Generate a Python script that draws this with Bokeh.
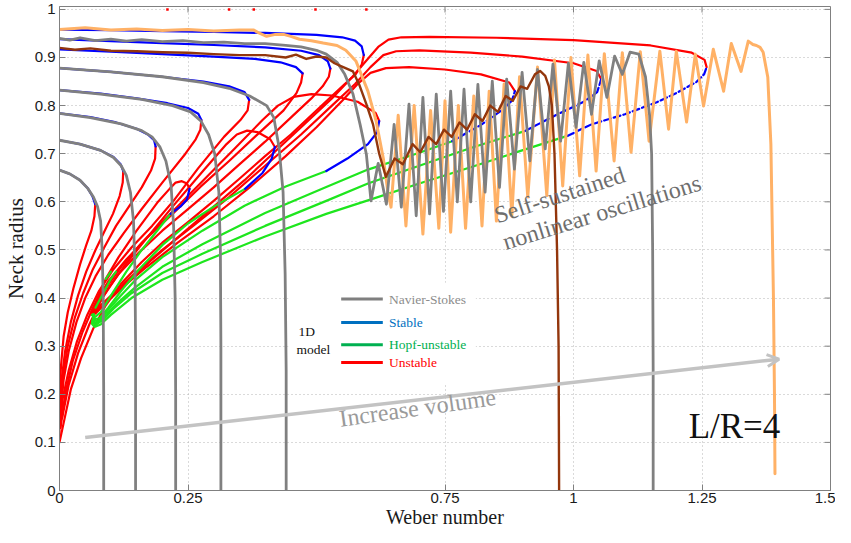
from bokeh.plotting import figure
from bokeh.models import FixedTicker, Arrow, OpenHead, Label, Range1d, CustomJSTickFormatter
from bokeh.embed import file_html
from bokeh.resources import INLINE

# ---------------- axis ticks ----------------
x_ticks = [0, 0.25, 0.75, 1, 1.25, 1.5]
y_ticks = [0, 0.1, 0.2, 0.3, 0.4, 0.5, 0.6, 0.7, 0.8, 0.9, 1]
X_MAX = 1.5
Y_MAX = 1.006

# ---------------- Navier-Stokes curves ----------------
ns_k0 = [(0, 0.666), (0.02, 0.658), (0.04, 0.645), (0.055, 0.628), (0.066, 0.61), (0.074, 0.59),
         (0.08, 0.56), (0.083, 0.5), (0.085, 0.4), (0.086, 0.2), (0.086, 0.0)]
ns_k1 = [(0, 0.728), (0.04, 0.72), (0.08, 0.707), (0.105, 0.692), (0.12, 0.675), (0.13, 0.655),
         (0.138, 0.62), (0.144, 0.56), (0.147, 0.45), (0.148, 0.3), (0.148, 0.0)]
ns_k2 = [(0, 0.784), (0.06, 0.775), (0.12, 0.762), (0.16, 0.748), (0.18, 0.735), (0.195, 0.715),
         (0.207, 0.685), (0.217, 0.635), (0.222, 0.55), (0.225, 0.4), (0.226, 0.2), (0.226, 0.0)]
ns_k3 = [(0, 0.832), (0.08, 0.824), (0.16, 0.813), (0.22, 0.8), (0.255, 0.787), (0.275, 0.768),
         (0.29, 0.74), (0.302, 0.7), (0.31, 0.62), (0.313, 0.5), (0.314, 0.3), (0.314, 0.0)]
ns_k4 = [(0, 0.878), (0.1, 0.87), (0.2, 0.86), (0.28, 0.848), (0.33, 0.836), (0.37, 0.82),
         (0.403, 0.8), (0.417, 0.775), (0.427, 0.714), (0.435, 0.62), (0.439, 0.45), (0.441, 0.25),
         (0.441, 0.0)]
ns_brown = [(0, 0.92), (0.03, 0.916), (0.06, 0.919), (0.1, 0.914), (0.15, 0.913), (0.2, 0.911),
            (0.25, 0.91), (0.3, 0.907), (0.35, 0.905), (0.4, 0.905), (0.44, 0.9), (0.46, 0.906),
            (0.48, 0.897), (0.5, 0.902), (0.519, 0.9), (0.535, 0.888), (0.552, 0.88), (0.571, 0.871),
            (0.583, 0.844), (0.597, 0.803), (0.61, 0.761), (0.622, 0.7), (0.635, 0.652),
            (0.652, 0.69), (0.668, 0.678), (0.687, 0.72), (0.702, 0.703), (0.718, 0.735),
            (0.733, 0.72), (0.748, 0.75), (0.763, 0.735), (0.778, 0.765), (0.793, 0.75),
            (0.808, 0.782), (0.823, 0.768), (0.838, 0.8), (0.853, 0.787), (0.868, 0.82),
            (0.882, 0.81), (0.897, 0.84), (0.91, 0.835), (0.925, 0.865), (0.935, 0.872),
            (0.945, 0.862), (0.952, 0.84), (0.958, 0.8), (0.963, 0.7), (0.968, 0.5), (0.971, 0.3),
            (0.972, 0.0)]
ns_gray_big = [(0, 0.94), (0.02, 0.936), (0.04, 0.941), (0.07, 0.935), (0.1, 0.938), (0.13, 0.934),
               (0.16, 0.937), (0.2, 0.933), (0.24, 0.935), (0.28, 0.931), (0.32, 0.932), (0.36, 0.929),
               (0.4, 0.929), (0.44, 0.925), (0.47, 0.922), (0.5, 0.915), (0.519, 0.907), (0.54, 0.89),
               (0.555, 0.865), (0.571, 0.824), (0.585, 0.76), (0.597, 0.699), (0.606, 0.602),
               (0.62, 0.68), (0.636, 0.595), (0.651, 0.761), (0.665, 0.589), (0.68, 0.803),
               (0.694, 0.571), (0.707, 0.817), (0.72, 0.575), (0.733, 0.824), (0.747, 0.58),
               (0.761, 0.83), (0.774, 0.6), (0.787, 0.834), (0.8, 0.6), (0.814, 0.844), (0.828, 0.62),
               (0.842, 0.851), (0.856, 0.63), (0.87, 0.855), (0.885, 0.668), (0.9, 0.869),
               (0.915, 0.685), (0.93, 0.875), (0.945, 0.71), (0.96, 0.886), (0.975, 0.726),
               (0.99, 0.888), (1.005, 0.755), (1.02, 0.89), (1.035, 0.782), (1.05, 0.893),
               (1.065, 0.817), (1.08, 0.903), (1.095, 0.865), (1.11, 0.911), (1.127, 0.907),
               (1.14, 0.86), (1.148, 0.78), (1.152, 0.7), (1.154, 0.5), (1.155, 0.25), (1.155, 0.0)]
ns_orange = [(0, 0.958), (0.05, 0.962), (0.1, 0.957), (0.15, 0.959), (0.2, 0.956), (0.25, 0.958),
             (0.3, 0.955), (0.35, 0.957), (0.378, 0.957), (0.39, 0.95), (0.403, 0.944),
             (0.42, 0.948), (0.436, 0.948), (0.45, 0.944), (0.467, 0.938), (0.49, 0.935),
             (0.513, 0.93), (0.54, 0.925), (0.557, 0.915), (0.577, 0.892), (0.6, 0.83),
             (0.616, 0.768), (0.63, 0.69), (0.639, 0.62), (0.645, 0.589), (0.659, 0.78),
             (0.674, 0.55), (0.69, 0.8), (0.707, 0.533), (0.722, 0.79), (0.738, 0.545), (0.75, 0.81),
             (0.761, 0.537), (0.776, 0.8), (0.79, 0.545), (0.806, 0.82), (0.822, 0.55), (0.836, 0.83),
             (0.85, 0.56), (0.865, 0.845), (0.88, 0.571), (0.895, 0.86), (0.911, 0.61), (0.93, 0.88),
             (0.948, 0.613), (0.963, 0.895), (0.979, 0.633), (0.995, 0.9), (1.012, 0.654),
             (1.028, 0.905), (1.044, 0.664), (1.06, 0.908), (1.079, 0.685), (1.095, 0.91),
             (1.112, 0.703), (1.13, 0.912), (1.147, 0.726), (1.168, 0.913), (1.185, 0.751),
             (1.2, 0.913), (1.22, 0.766), (1.237, 0.907), (1.253, 0.799), (1.272, 0.917),
             (1.292, 0.83), (1.307, 0.929), (1.326, 0.871), (1.34, 0.934), (1.349, 0.927),
             (1.356, 0.925), (1.363, 0.921), (1.369, 0.911), (1.378, 0.859), (1.384, 0.72),
             (1.389, 0.4), (1.391, 0.2), (1.392, 0.035)]

# ---------------- 1D model: first branch (stable -> fold -> unstable) ----------------
b1_blue = [
    [(0, 0.666), (0.02, 0.658), (0.04, 0.645), (0.055, 0.628), (0.064, 0.612), (0.0695, 0.595)],
    [(0, 0.728), (0.04, 0.72), (0.08, 0.707), (0.105, 0.693), (0.119, 0.678), (0.124, 0.664)],
    [(0, 0.784), (0.06, 0.776), (0.11, 0.765), (0.15, 0.752), (0.172, 0.74), (0.184, 0.728), (0.187, 0.715)],
    [(0, 0.832), (0.08, 0.825), (0.15, 0.815), (0.21, 0.805), (0.25, 0.795), (0.27, 0.783), (0.276, 0.77)],
    [(0, 0.878), (0.1, 0.87), (0.2, 0.86), (0.28, 0.85), (0.33, 0.84), (0.36, 0.828), (0.369, 0.812)],
    [(0, 0.917), (0.1, 0.912), (0.2, 0.907), (0.3, 0.902), (0.38, 0.897), (0.43, 0.89), (0.46, 0.88), (0.473, 0.867)],
    [(0, 0.938), (0.1, 0.934), (0.2, 0.93), (0.3, 0.926), (0.4, 0.921), (0.47, 0.914), (0.505, 0.905), (0.522, 0.892), (0.527, 0.877)],
    [(0, 0.958), (0.1, 0.957), (0.2, 0.955), (0.3, 0.953), (0.4, 0.951), (0.5, 0.947), (0.55, 0.942), (0.575, 0.935), (0.588, 0.923), (0.592, 0.905)],
]
b1_red = [
    [(0.0695, 0.595), (0.068, 0.57), (0.062, 0.54), (0.052, 0.51), (0.04, 0.47), (0.027, 0.42), (0.016, 0.37), (0.008, 0.32), (0.003, 0.26), (0.0, 0.2), (0.0, 0.105)],
    [(0.124, 0.664), (0.123, 0.64), (0.117, 0.612), (0.104, 0.575), (0.088, 0.54), (0.07, 0.5), (0.052, 0.455), (0.036, 0.405), (0.022, 0.35), (0.011, 0.29), (0.004, 0.23), (0.0, 0.15)],
    [(0.187, 0.715), (0.186, 0.69), (0.178, 0.665), (0.16, 0.63), (0.135, 0.59), (0.11, 0.55), (0.087, 0.505), (0.065, 0.46), (0.046, 0.41), (0.03, 0.36), (0.016, 0.3), (0.007, 0.24), (0.002, 0.17)],
    [(0.276, 0.77), (0.274, 0.75), (0.265, 0.73), (0.245, 0.7), (0.2, 0.64), (0.16, 0.585), (0.125, 0.535), (0.095, 0.49), (0.07, 0.445), (0.05, 0.4), (0.033, 0.35), (0.018, 0.29), (0.008, 0.23), (0.002, 0.16)],
    [(0.369, 0.812), (0.366, 0.79), (0.352, 0.77), (0.32, 0.735), (0.27, 0.67), (0.224, 0.605), (0.18, 0.55), (0.14, 0.505), (0.105, 0.46), (0.077, 0.415), (0.054, 0.365), (0.034, 0.31), (0.018, 0.25), (0.006, 0.19), (0.001, 0.13)],
    [(0.473, 0.867), (0.47, 0.848), (0.461, 0.826), (0.436, 0.79), (0.38, 0.735), (0.33, 0.685), (0.274, 0.631), (0.22, 0.575), (0.17, 0.525), (0.13, 0.48), (0.095, 0.435), (0.067, 0.385), (0.045, 0.33), (0.026, 0.27), (0.011, 0.2), (0.002, 0.13)],
    [(0.527, 0.877), (0.524, 0.86), (0.512, 0.84), (0.49, 0.815), (0.45, 0.775), (0.4, 0.725), (0.35, 0.678), (0.3, 0.63), (0.25, 0.585), (0.2, 0.54), (0.155, 0.495), (0.115, 0.45), (0.083, 0.4), (0.058, 0.345), (0.036, 0.285), (0.018, 0.22), (0.005, 0.15)],
    [(0.592, 0.905), (0.588, 0.885), (0.576, 0.865), (0.555, 0.845), (0.52, 0.81), (0.45, 0.74), (0.4, 0.695), (0.35, 0.648), (0.3, 0.602), (0.25, 0.558), (0.2, 0.515), (0.16, 0.475), (0.12, 0.43), (0.09, 0.385), (0.065, 0.335), (0.042, 0.275), (0.022, 0.21), (0.008, 0.14), (0.0, 0.1)],
]

# ---------------- 1D model: second branch (Hopf -> stable -> fold -> unstable arch) ----------------
b2_green = [
    [(0.09, 0.44), (0.1, 0.455)],
    [(0.07, 0.38), (0.085, 0.41), (0.1, 0.44), (0.11, 0.455)],
    [(0.063, 0.365), (0.068, 0.36), (0.08, 0.37), (0.1, 0.405), (0.13, 0.455), (0.16, 0.5), (0.19, 0.54), (0.216, 0.575)],
    [(0.065, 0.366), (0.067, 0.356), (0.078, 0.358), (0.095, 0.38), (0.12, 0.415), (0.155, 0.46), (0.2, 0.51), (0.25, 0.555), (0.3, 0.59), (0.361, 0.627)],
    [(0.066, 0.366), (0.066, 0.354), (0.075, 0.352), (0.09, 0.37), (0.115, 0.4), (0.15, 0.44), (0.2, 0.485), (0.278, 0.54), (0.36, 0.592), (0.44, 0.632), (0.519, 0.664)],
    [(0.067, 0.366), (0.065, 0.352), (0.072, 0.348), (0.088, 0.362), (0.11, 0.387), (0.145, 0.42), (0.2, 0.465), (0.278, 0.512), (0.4, 0.577), (0.519, 0.631), (0.6, 0.667), (0.7, 0.702), (0.764, 0.726)],
    [(0.067, 0.364), (0.064, 0.35), (0.07, 0.344), (0.085, 0.355), (0.105, 0.378), (0.14, 0.41), (0.2, 0.452), (0.278, 0.492), (0.4, 0.55), (0.519, 0.602), (0.6, 0.638), (0.7, 0.675), (0.8, 0.712), (0.905, 0.747)],
    [(0.066, 0.362), (0.063, 0.347), (0.068, 0.34), (0.08, 0.345), (0.1, 0.365), (0.14, 0.4), (0.2, 0.438), (0.278, 0.475), (0.4, 0.528), (0.519, 0.575), (0.6, 0.603), (0.7, 0.638), (0.8, 0.672), (0.9, 0.707), (0.988, 0.737)],
]
b2_blue = [
    [(0.216, 0.575), (0.235, 0.59), (0.248, 0.605), (0.253, 0.627)],
    [(0.361, 0.627), (0.395, 0.66), (0.413, 0.69), (0.419, 0.714)],
    [(0.519, 0.664), (0.56, 0.69), (0.6, 0.72), (0.618, 0.745), (0.622, 0.768)],
    [(0.764, 0.726), (0.82, 0.76), (0.86, 0.79), (0.88, 0.81), (0.886, 0.83)],
    [(0.905, 0.747), (0.969, 0.782), (1.02, 0.808), (1.046, 0.828), (1.054, 0.855)],
    [(0.988, 0.737), (1.035, 0.761), (1.1, 0.782), (1.162, 0.807), (1.2, 0.826), (1.239, 0.849), (1.254, 0.865), (1.259, 0.88)],
]
b2_red = [
    [(0.253, 0.627), (0.248, 0.638), (0.238, 0.643), (0.226, 0.64), (0.215, 0.628), (0.19, 0.598), (0.15, 0.54), (0.115, 0.485), (0.09, 0.44), (0.072, 0.395), (0.063, 0.365)],
    [(0.419, 0.714), (0.41, 0.73), (0.385, 0.745), (0.365, 0.748), (0.345, 0.74), (0.325, 0.72), (0.28, 0.665), (0.22, 0.59), (0.17, 0.525), (0.125, 0.465), (0.095, 0.42), (0.075, 0.385), (0.064, 0.365)],
    [(0.622, 0.768), (0.615, 0.785), (0.58, 0.808), (0.53, 0.821), (0.49, 0.824), (0.455, 0.818), (0.425, 0.8), (0.395, 0.77), (0.34, 0.71), (0.28, 0.645), (0.22, 0.58), (0.16, 0.515), (0.12, 0.465), (0.09, 0.42), (0.072, 0.388), (0.065, 0.368)],
    [(0.886, 0.83), (0.875, 0.848), (0.82, 0.865), (0.75, 0.875), (0.68, 0.88), (0.635, 0.878), (0.605, 0.868), (0.58, 0.845), (0.55, 0.81), (0.5, 0.755), (0.44, 0.695), (0.37, 0.63), (0.3, 0.57), (0.23, 0.515), (0.17, 0.465), (0.12, 0.42), (0.09, 0.39), (0.07, 0.368)],
    [(1.054, 0.855), (1.045, 0.872), (1.0, 0.888), (0.9, 0.902), (0.8, 0.91), (0.7, 0.915), (0.655, 0.913), (0.63, 0.905), (0.605, 0.88), (0.575, 0.845), (0.53, 0.8), (0.47, 0.74), (0.4, 0.675), (0.33, 0.61), (0.26, 0.55), (0.2, 0.5), (0.145, 0.45), (0.105, 0.41), (0.08, 0.385), (0.068, 0.37)],
    [(1.259, 0.88), (1.255, 0.895), (1.23, 0.91), (1.15, 0.925), (1.0, 0.936), (0.85, 0.941), (0.72, 0.943), (0.665, 0.942), (0.64, 0.937), (0.62, 0.922), (0.598, 0.895), (0.57, 0.86), (0.53, 0.815), (0.48, 0.765), (0.42, 0.705), (0.36, 0.645), (0.3, 0.59), (0.24, 0.535), (0.18, 0.48), (0.13, 0.43), (0.095, 0.395), (0.072, 0.372)],
]
top_red_marks_we = [0.21, 0.33, 0.378, 0.498, 0.597]

# ---------------- colours ----------------
RED = "#ff0000"
BLUE = "#0000ff"
GREEN = "#1ee61e"
GRAY = "#808080"
BROWN = "#93360c"
ORANGE = "#ffb166"

p = figure(width=835, height=530, x_range=Range1d(0, X_MAX), y_range=Range1d(0, Y_MAX),
           output_backend="svg", toolbar_location=None,
           min_border_left=53, min_border_right=5, min_border_top=6, min_border_bottom=38)
p.background_fill_color = "white"
p.border_fill_color = "white"
p.outline_line_color = GRAY
p.outline_line_width = 1

fmt = CustomJSTickFormatter(code="return tick.toString()")
p.xaxis.ticker = FixedTicker(ticks=x_ticks)
p.yaxis.ticker = FixedTicker(ticks=y_ticks)
p.xaxis.formatter = fmt
p.yaxis.formatter = fmt
for ax in (p.xaxis, p.yaxis):
    ax.major_tick_in = 6
    ax.major_tick_out = 0
    ax.minor_tick_line_color = None
    ax.axis_line_color = GRAY
    ax.major_tick_line_color = GRAY
    ax.major_label_text_font = "Liberation Sans"
    ax.major_label_text_font_size = "15px"
    ax.major_label_text_color = "#1a1a1a"
    ax.axis_label_text_font = "Liberation Serif"
    ax.axis_label_text_font_size = "21px"
    ax.axis_label_text_font_style = "normal"
    ax.axis_label_text_color = "#1a1a1a"
p.xaxis.axis_label = "Weber number"
p.yaxis.axis_label = "Neck radius"
p.xaxis.axis_label_text_font_size = "20px"
p.xaxis.major_label_standoff = 2
p.xaxis.axis_label_standoff = 0
p.yaxis.major_label_standoff = 4
p.yaxis.axis_label_standoff = 4

p.xgrid.ticker = FixedTicker(ticks=x_ticks)
p.ygrid.ticker = FixedTicker(ticks=y_ticks)
for g in (p.xgrid, p.ygrid):
    g.grid_line_color = "#b5b5b5"
    g.grid_line_dash = "1 3"
    g.grid_line_width = 1

# inward tick marks on the right and top edges of the box (MATLAB "box on" style)
p.segment(x0=[X_MAX - 0.0115] * len(y_ticks), x1=[X_MAX] * len(y_ticks), y0=y_ticks, y1=y_ticks,
          line_color=GRAY, line_width=1)
p.segment(x0=x_ticks, x1=x_ticks, y0=[Y_MAX - 0.0125] * len(x_ticks), y1=[Y_MAX] * len(x_ticks),
          line_color=GRAY, line_width=1)


def draw(pts, color, width, dash="solid", alpha=1.0):
    xs = [a for a, b in pts]
    ys = [b for a, b in pts]
    p.line(xs, ys, line_color=color, line_width=width, line_dash=dash,
           line_join="round", line_cap="round", line_alpha=alpha)


# 1D model
for seg in b1_red:
    draw(seg, RED, 2.2)
for seg in b2_red:
    draw(seg, RED, 2.2)
for seg in b2_green:
    draw(seg, GREEN, 2.2)
for seg in b1_blue:
    draw(seg, BLUE, 2.2)
for i, seg in enumerate(b2_blue):
    draw(seg, BLUE, 2.2, dash="7 3" if i >= 3 else "solid")

p.scatter(top_red_marks_we, [1.0] * len(top_red_marks_we), marker="square", size=2.5,
          fill_color=RED, line_color=None)

# Navier-Stokes
draw(ns_orange, ORANGE, 3)
for seg in (ns_k0, ns_k1, ns_k2, ns_k3, ns_k4, ns_gray_big):
    draw(seg, GRAY, 2.8)
draw(ns_brown, BROWN, 2.4)

# legend box (custom, coloured texts)
p.quad(left=[0.445], right=[0.81], bottom=[0.222], top=[0.432], fill_color="white",
       line_color=None)
leg_names = ["Navier-Stokes", "Stable", "Hopf-unstable", "Unstable"]
leg_line_cols = ["#7f7f7f", "#0070c0", "#00b050", "#ff0000"]
leg_text_cols = ["#8c8c8c", "#0070c0", "#00b050", "#ff0000"]
leg_r = [0.398, 0.349, 0.303, 0.266]
p.segment(x0=[0.548] * 4, x1=[0.629] * 4, y0=leg_r, y1=leg_r, line_color=leg_line_cols,
          line_width=3)
for name, col, r in zip(leg_names, leg_text_cols, leg_r):
    p.add_layout(Label(x=0.641, y=r, text=name, text_color=col, text_font="Liberation Serif",
                       text_font_size="13.5px", text_baseline="middle", text_align="left"))
p.add_layout(Label(x=0.465, y=0.330, text="1D", text_color="#111111", text_font="Liberation Serif",
                   text_font_size="13.5px", text_baseline="middle"))
p.add_layout(Label(x=0.461, y=0.2925, text="model", text_color="#111111",
                   text_font="Liberation Serif", text_font_size="13.5px", text_baseline="middle"))

# annotations
p.add_layout(Arrow(end=OpenHead(size=12, line_color="#c3c3c3", line_width=3),
                   x_start=0.05, y_start=0.11, x_end=1.40, y_end=0.273,
                   line_color="#c3c3c3", line_width=3.5))
p.add_layout(Label(x=0.548, y=0.122, text="Increase volume", angle=8, angle_units="deg",
                   text_color="#9a9a9a", text_font="Liberation Serif", text_font_size="24px"))
p.add_layout(Label(x=0.855, y=0.545, text="Self-sustained", angle=18, angle_units="deg",
                   text_color="#6e6e6e", text_font="Liberation Serif", text_font_size="24px"))
p.add_layout(Label(x=0.871, y=0.49, text="nonlinear oscillations", angle=17, angle_units="deg",
                   text_color="#6e6e6e", text_font="Liberation Serif", text_font_size="24px"))
p.add_layout(Label(x=1.224, y=0.093, text="L/R=4", text_color="#111111",
                   text_font="Liberation Serif", text_font_size="35px"))

open("out.html", "w").write(file_html(p, INLINE))
